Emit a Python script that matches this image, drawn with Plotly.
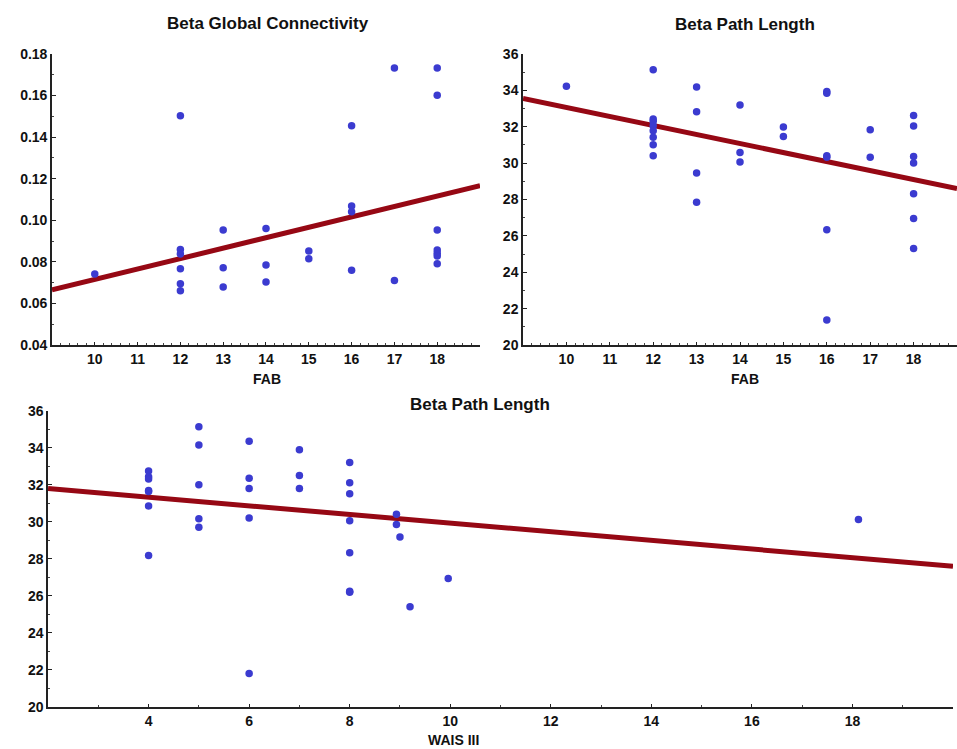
import plotly.graph_objects as go

# ---------------- data ----------------
# Panel A: Beta Global Connectivity vs FAB
gc_fab = [10, 12, 12, 12, 12, 12, 12, 13, 13, 13, 14, 14, 14, 15, 15,
          16, 16, 16, 16, 17, 17, 18, 18, 18, 18, 18, 18, 18]
gc_val = [0.0742, 0.1503, 0.0860, 0.0838, 0.0767, 0.0695, 0.0661,
          0.0953, 0.0772, 0.0679, 0.0961, 0.0785, 0.0703, 0.0852, 0.0815,
          0.1455, 0.1069, 0.1041, 0.0759, 0.1733, 0.0710,
          0.1733, 0.1601, 0.0953, 0.0857, 0.0841, 0.0828, 0.0791]
gc_fit_x = [9, 19]
gc_fit_y = [0.0665, 0.1167]

# Panel B: Beta Path Length vs FAB
pl_fab = [10, 12, 12, 12, 12, 12, 12, 12, 12, 13, 13, 13, 13, 14, 14, 14,
          15, 15, 16, 16, 16, 16, 16, 16, 17, 17,
          18, 18, 18, 18, 18, 18, 18]
pl_val = [34.23, 35.14, 32.42, 32.30, 32.05, 31.78, 31.42, 31.01, 30.41,
          34.19, 32.82, 29.46, 27.85, 33.19, 30.58, 30.06,
          31.98, 31.47, 33.94, 33.84, 30.41, 30.32, 26.34, 21.37,
          31.84, 30.32,
          32.62, 32.04, 30.36, 30.01, 28.31, 26.96, 25.30]
pl_fit_x = [9, 19]
pl_fit_y = [33.55, 28.6]

# Panel C: Beta Path Length vs WAIS III
w_x = [4, 4, 4, 4, 4, 4, 4, 5, 5, 5, 5, 5, 6, 6, 6, 6, 6, 7, 7, 7,
       8, 8, 8, 8, 8, 8, 8, 8.93, 8.93, 9.0, 9.2, 9.96, 18.12]
w_y = [32.75, 32.44, 32.33, 31.70, 31.65, 30.87, 28.19,
       35.15, 34.16, 32.01, 30.18, 29.71,
       34.36, 32.37, 31.81, 30.22, 21.81,
       33.91, 32.51, 31.81,
       33.22, 32.12, 31.52, 30.07, 28.34, 26.20, 26.25,
       30.42, 29.87, 29.19, 25.42, 26.94, 30.13]
w_fit_x = [2, 20]
w_fit_y = [31.81, 27.6]

titles = ["Beta Global Connectivity", "Beta Path Length", "Beta Path Length"]
x_titles = ["FAB", "FAB", "WAIS III"]
fab_ticks = [10, 11, 12, 13, 14, 15, 16, 17, 18]
wais_ticks = [4, 6, 8, 10, 12, 14, 16, 18]

# ---------------- styles ----------------
MARKER = "#3b3bd0"
LINE = "#960814"
FONT = "Liberation Sans, Arial, sans-serif"

fig = go.Figure()

panels = [
    (gc_fab, gc_val, gc_fit_x, gc_fit_y, "x", "y"),
    (pl_fab, pl_val, pl_fit_x, pl_fit_y, "x2", "y2"),
    (w_x, w_y, w_fit_x, w_fit_y, "x3", "y3"),
]
for px, py, fx, fy, xa, ya in panels:
    fig.add_trace(go.Scatter(x=fx, y=fy, mode="lines", xaxis=xa, yaxis=ya,
                             line=dict(color=LINE, width=5), showlegend=False))
    fig.add_trace(go.Scatter(x=px, y=py, mode="markers", xaxis=xa, yaxis=ya,
                             marker=dict(color=MARKER, size=7.5), showlegend=False,
                             cliponaxis=False))

tickfont = dict(family=FONT, size=14, color="#111111", weight="bold")

def xax(domain, anchor, rng, tickvals, dtick_minor):
    return dict(domain=domain, anchor=anchor, range=rng, tickvals=tickvals,
                showgrid=False, zeroline=False, showline=True, linecolor="#222",
                linewidth=1.5, ticks="inside", ticklen=3, tickcolor="#222",
                tickfont=tickfont, automargin=False,
                minor=dict(ticks="inside", ticklen=2, dtick=dtick_minor,
                           tickcolor="#444", showgrid=False))

def yax(domain, anchor, rng, dtick, fmt, minor):
    return dict(domain=domain, anchor=anchor, range=rng, dtick=dtick,
                tickformat=fmt, showgrid=False, zeroline=False, showline=True,
                linecolor="#222", linewidth=1.5, ticks="inside", ticklen=4,
                tickcolor="#222", tickfont=tickfont, automargin=False,
                minor=dict(ticks="inside", ticklen=2, dtick=minor,
                           tickcolor="#444", showgrid=False))

fig.update_layout(
    width=957, height=749,
    margin=dict(l=0, r=0, t=0, b=0),
    paper_bgcolor="white", plot_bgcolor="white",
    font=dict(family=FONT, color="#111111"),
    xaxis=xax([0.0543, 0.5016], "y", [9, 19], fab_ticks, 0.2),
    yaxis=yax([0.5394, 0.9279], "x", [0.04, 0.18], 0.02, ".2f", 0.01),
    xaxis2=xax([0.5465, 1.0], "y2", [9, 19], fab_ticks, 0.2),
    yaxis2=yax([0.5394, 0.9279], "x2", [20, 36], 2, "d", 1),
    xaxis3=xax([0.0502, 0.9958], "y3", [2, 20], wais_ticks, 1),
    yaxis3=yax([0.0561, 0.4513], "x3", [20, 36], 2, "d", 1),
)

ann = [
    (268, 23, titles[0], 17),
    (745, 24, titles[1], 17),
    (480, 404, titles[2], 17),
    (267, 379, x_titles[0], 14),
    (745, 379, x_titles[1], 14),
    (453, 740, x_titles[2], 14),
]
for xp, yp, txt, sz in ann:
    fig.add_annotation(x=xp / 957, y=1 - yp / 749, xref="paper", yref="paper",
                       text="<b>%s</b>" % txt, showarrow=False,
                       font=dict(family=FONT, size=sz, color="#111111"),
                       xanchor="center", yanchor="middle")

fig.write_html("out.html",
               config={"displayModeBar": False},
               post_script="document.body.style.margin='0';"
                           "document.body.style.overflow='hidden';")
